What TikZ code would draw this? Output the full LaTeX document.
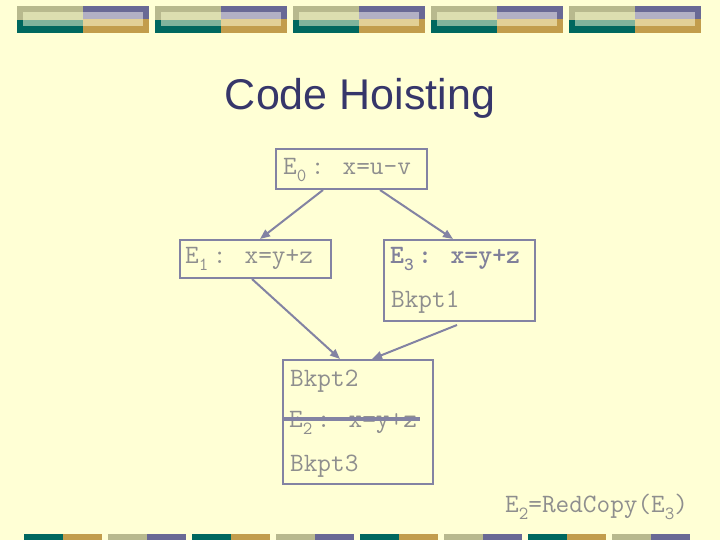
\documentclass[tikz,border=0pt]{standalone}
\usepackage{fontspec}
\setmainfont{Liberation Sans}

\usetikzlibrary{arrows.meta,calc}

\definecolor{fondo}{HTML}{FFFFD5}
\definecolor{caqui}{HTML}{B8B98E}
\definecolor{morado}{HTML}{696995}
\definecolor{verde}{HTML}{00685F}
\definecolor{oro}{HTML}{C29D4C}
\definecolor{caquiclaro}{HTML}{DCDEB0}
\definecolor{moradoclaro}{HTML}{B2B0C4}
\definecolor{verdeclaro}{HTML}{80B49C}
\definecolor{oroclaro}{HTML}{E2D096}
\definecolor{azultit}{HTML}{36366A}
\definecolor{borde}{HTML}{8383A3}
\definecolor{gristxt}{HTML}{8E8E8E}
\definecolor{grisbold}{HTML}{80809A}

% subindices
\newcommand{\subc}[1]{\makebox[14pt][l]{\raisebox{-7pt}{\fontsize{18.5}{18}\selectfont #1}}}
\newcommand{\subp}[1]{\raisebox{-7pt}{\fontsize{18.5}{18}\selectfont #1}}

\begin{document}
\begin{tikzpicture}[x=1pt,y=-1pt,
    caja/.style={draw=borde, line width=2pt, inner sep=0pt, anchor=north west},
    codigo/.style={anchor=base west, inner sep=0pt, text=gristxt,
        font=\ttfamily\fontsize{26.5}{30}\selectfont},
    flecha/.style={draw=borde, line width=2pt, -{Triangle[length=10pt,width=8pt]}},
    tachado/.style={draw=borde, line width=3.5pt}]
    \useasboundingbox (0,0) rectangle (720,540);
    \fill[fondo] (0,0) rectangle (720,540);

    % Franja superior
    \foreach \i in {0,...,4}{
        \pgfmathsetmacro{\xa}{17+138*\i}
        \fill[caqui] (\xa,6) rectangle ++(66,14);
        \fill[verde] (\xa,20) rectangle ++(66,13);
        \fill[morado] (\xa+66,6) rectangle ++(66,13);
        \fill[oro] (\xa+66,19) rectangle ++(66,14);
        \fill[caquiclaro] (\xa+6,12) rectangle ++(60,8);
        \fill[verdeclaro] (\xa+6,20) rectangle ++(60,6);
        \fill[moradoclaro] (\xa+66,12) rectangle ++(60,7);
        \fill[oroclaro] (\xa+66,19) rectangle ++(60,7);
    }

    % Franja inferior
    \foreach \i/\ca/\cb in {0/verde/oro,1/caqui/morado,2/verde/oro,3/caqui/morado,
                            4/verde/oro,5/caqui/morado,6/verde/oro,7/caqui/morado}{
        \fill[\ca] (24+84*\i,534) rectangle ++(39,6);
        \fill[\cb] (63+84*\i,534) rectangle ++(39,6);
    }

    % Titulo
    \node[anchor=base, inner sep=0pt, text=azultit, font=\fontsize{43}{50}\selectfont]
        (titulo) at (360,110) {Code Hoisting};

    % Bloques
    \node[caja, minimum width=151pt, minimum height=40pt] (e0) at (275,148) {};
    \node[caja, minimum width=151pt, minimum height=38pt] (e1) at (179,239) {};
    \node[caja, minimum width=151pt, minimum height=81pt] (e3) at (383,239) {};
    \node[caja, minimum width=150pt, minimum height=124pt] (e2) at (282,359) {};

    % Textos
    \node[codigo] (t0) at (283,175) {E\subc{0}: x=u-v};
    \node[codigo] (t1) at (185,263) {E\subc{1}: x=y+z};
    \node[codigo, text=grisbold, font=\ttfamily\bfseries\fontsize{26.5}{30}\selectfont]
        (t3) at (390,263) {E\subc{3}: x=y+z};
    \node[codigo] (k1) at (391,307) {Bkpt1};
    \node[codigo] (k2) at (290,386) {Bkpt2};
    \node[codigo] (t2) at (289,427) {E\subc{2}: x=y+z};
    \node[codigo] (k3) at (290,471) {Bkpt3};
    \node[codigo] (nota) at (505,512) {E\subp{2}=RedCopy(E\subp{3})};

    % Tachado
    \draw[tachado] ($(t2.base west)+(-7,-8)$) -- ($(t2.base west)+(131,-8)$);

    % Flechas
    \draw[flecha] ([xshift=48pt]e0.south west) -- ([xshift=81pt]e1.north west);
    \draw[flecha] ([xshift=105pt]e0.south west) -- ([xshift=70pt]e3.north west);
    \draw[flecha] ([xshift=73pt]e1.south west) -- ([xshift=58pt]e2.north west);
    \draw[flecha] ([xshift=74pt,yshift=-3pt]e3.south west) -- ([xshift=90pt]e2.north west);
\end{tikzpicture}
\end{document}
